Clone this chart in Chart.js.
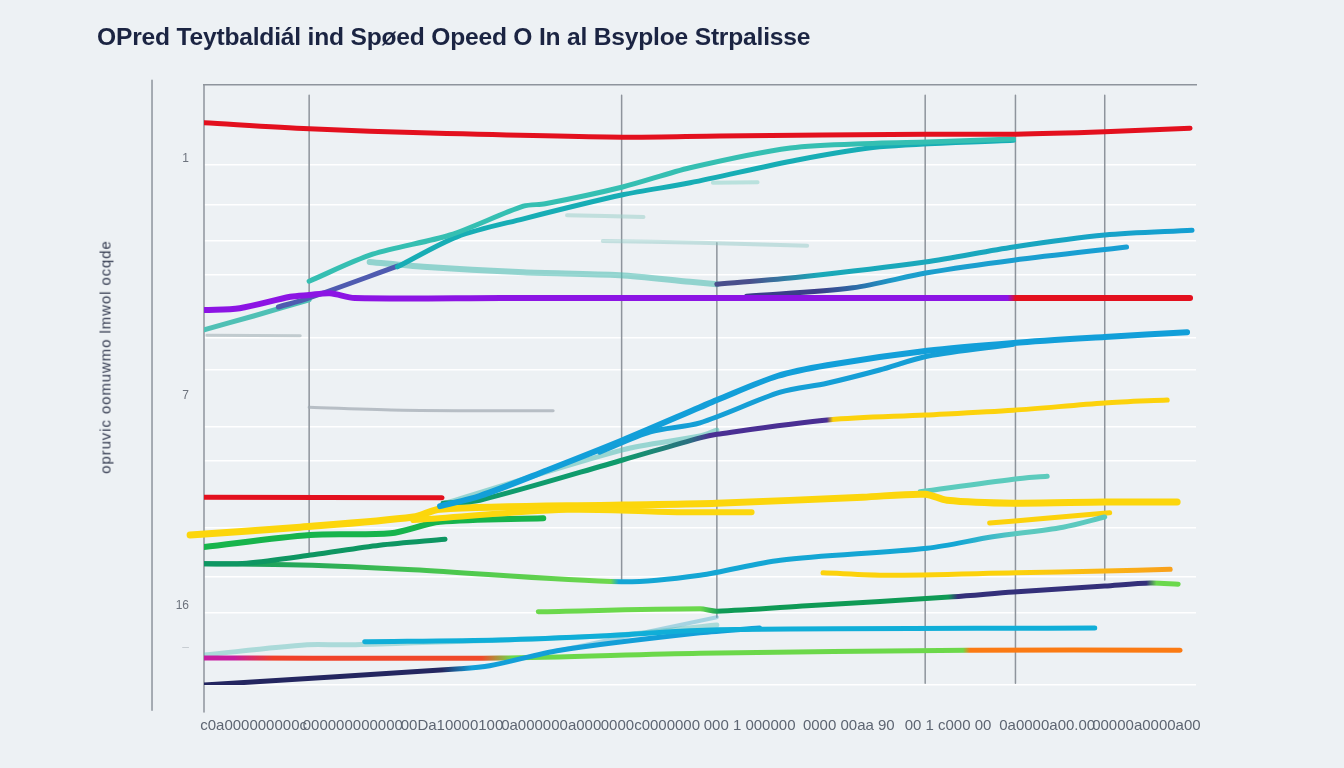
<!DOCTYPE html>
<html><head><meta charset="utf-8">
<script src="https://cdn.jsdelivr.net/npm/chart.js@4/dist/chart.umd.min.js"></script>
<style>
html,body{margin:0;padding:0;background:#edf1f4;}
#wrap{position:relative;width:1344px;height:768px;overflow:hidden;background:#edf1f4;}
#title{position:absolute;left:97px;top:23px;font:bold 24.6px "Liberation Sans",Arial,sans-serif;color:#1b2442;white-space:nowrap;letter-spacing:-0.2px;}
#ytitle{position:absolute;left:105px;top:357px;transform:translate(-50%,-50%) rotate(-90deg);font:15px "Liberation Sans",Arial,sans-serif;color:#343b50;white-space:nowrap;letter-spacing:0.9px;}
</style></head>
<body><div id="wrap"><canvas id="c" width="1344" height="768"></canvas>
<div id="title">OPred Teytbaldiál ind Spøed Opeed O In al Bsyploe Strpalisse</div>
<div id="ytitle">opruvic oomuwmo lmwol ocqde</div></div>
<script>
// ---- tick labels / axis values ----
const xTickValues = [5,15,25,35,45,55,65,75,85,95];
const xTickLabels = ['c0a000000000c','000000000000','00Da10000100','0a000000a000','0000c0000000','000 1 000000','0000 00aa 90','00 1 c000 00','0a0000a00.00','00000a0000a00'];
const yTickValues = [12.2, 51.8, 86.7, 93.8];
const yTickLabels = ['1','7','16','–'];
const yGridValues = [13.3, 20.0, 26.0, 31.7, 42.2, 47.5, 57.0, 62.7, 73.8, 82.0, 88.0, 100];
// vertical reference lines
const vX = [10.6, 42.1, 51.7, 72.7, 81.8, 90.8];
const vTop = [1.7, 1.7, 26.3, 1.7, 1.7, 1.7];
const vBottom = [78.3, 82.8, 88.7, 99.7, 99.7, 82.5];
// axis frame lines
const leftAxis = [[0,0],[0,104.5]];
const outerAxis = [[-5.24,-0.8],[-5.24,104.2]];

// ---- series (x, y) ----
const redTop = [[0,6.3],[10.6,7.3],[22.8,8.0],[42.2,8.7],[52.0,8.5],[72.7,8.2],[81.8,8.2],[90.8,7.8],[99.4,7.2]];
const purpleRed = [[0,37.5],[3.6,37.2],[8.7,35.3],[10.6,35.0],[12.7,34.7],[15.2,35.5],[30,35.5],[50,35.5],[81.6,35.5],[99.4,35.5]];
const tealA = [[10.6,32.7],[17.0,28.2],[24.8,25.0],[32.2,20.2],[34.4,19.8],[42.2,17.0],[49.0,13.8],[59.1,10.5],[67.8,9.7],[72.9,9.5],[81.6,9.0]];
const tealB = [[19.5,30.3],[25.5,25.3],[32.2,22.3],[42.2,18.3],[49.0,16.3],[59.8,12.5],[68.1,10.3],[81.6,9.2]];
const tealStart = [[0,40.8],[5.0,38.5],[10.6,35.8]];
const slateRise = [[7.5,37.0],[10.6,35.5],[19.5,30.2]];
const lineD = [[51.7,33.2],[60.1,32.0],[72.7,29.5],[81.6,27.0],[90.8,25.0],[99.6,24.2]];
const lineE = [[54.7,35.2],[65.4,33.8],[72.9,31.3],[81.6,29.2],[93.0,27.0]];
const blueF = [[23.8,70.2],[27.8,68.5],[34.6,64.2],[42.2,59.2],[50.0,53.7],[51.7,52.5],[57.8,48.5],[62.8,46.7],[72.9,44.3],[81.6,43.0],[90.8,42.0],[99.1,41.2]];
const blueF2 = [[39.9,61.2],[45.0,57.8],[50.0,56.3],[58.1,51.2],[62.8,49.7],[68.1,47.5],[72.9,45.2],[81.6,43.2]];
const lineG = [[24.1,69.7],[27.8,69.2],[42.2,62.5],[50.0,58.8],[51.7,58.2],[63.1,55.8],[72.7,55.0],[81.6,54.2],[90.8,53.0],[97.1,52.5]];
const ghostG = [[24.3,69.7],[42.2,60.8],[50.0,58.5],[51.7,57.5]];
const redMid = [[0,68.7],[24.0,68.8]];
const yellowH = [[-1.4,75.0],[9.7,73.7],[21.1,72.0],[23.8,70.7],[42.2,70.0],[51.7,69.7],[66.4,68.7],[72.7,68.2],[74.9,69.2],[81.6,69.7],[90.8,69.5],[98.1,69.5]];
const yellowH2 = [[21.1,72.5],[36.6,70.8],[48.0,71.2],[55.2,71.2]];
const tealI = [[72.2,67.8],[81.6,65.7],[85.0,65.2]];
const yellowI2 = [[79.2,73.0],[84.3,72.3],[91.3,71.3]];
const greenJ = [[0,77.0],[10.7,75.0],[18.8,74.7],[23.8,72.8],[34.2,72.2]];
const greenK = [[0,79.8],[4.3,79.7],[11.0,78.3],[17.7,76.7],[24.3,75.7]];
const lineL = [[0,79.8],[9.7,80.0],[21.1,80.8],[42.1,82.8],[50.0,81.7],[58.1,79.2],[72.9,77.2],[79.5,75.3],[86.6,73.7],[90.8,72.0]];
const lineM = [[62.4,81.3],[68.9,81.7],[81.8,81.3],[90.8,81.0],[97.4,80.7]];
const lineN = [[33.7,87.8],[50.0,87.3],[51.7,87.7],[60.8,86.8],[75.5,85.3],[81.6,84.5],[90.8,83.5],[95.4,83.0],[98.2,83.2]];
const cyanO = [[16.2,92.8],[29.8,92.5],[40.6,91.8],[51.7,90.8],[89.8,90.5]];
const lineQ = [[0,100],[25.8,97.3],[28.8,96.8],[35.9,94.2],[50.0,91.3],[56.0,90.5]];
const lineR = [[0,95.5],[4.3,95.5],[29.8,95.5],[50.0,94.7],[76.9,94.2],[98.4,94.2]];
const ghost1 = [[16.7,29.5],[22.1,30.3],[32.2,31.2],[41.9,31.7],[49.0,32.8],[51.7,33.2]];
const ghost2 = [[36.6,21.7],[44.3,22.0]];
const ghost3 = [[40.2,26.0],[50.0,26.3],[60.8,26.8]];
const ghost4 = [[51.3,16.3],[55.8,16.2]];
const ghost5 = [[0.3,41.7],[9.7,41.8]];
const ghost6 = [[10.6,53.7],[20,54.2],[35.2,54.3]];
const ghost7 = [[0,95.0],[10.4,93.3],[14.4,93.3],[40.6,91.8],[51.7,90.0]];
const ghost8 = [[35.9,94.2],[51.7,88.7]];

const FONT = '"Liberation Sans", Arial, sans-serif';

function seg(pts, color, width, extra){
  return Object.assign({
    data: pts.map(p => ({x:p[0], y:p[1]})),
    borderColor: color, borderWidth: width, xAxisID:'x', yAxisID:'y',
    pointRadius:0, fill:false, tension:0.3,
    borderCapStyle:'round', borderJoinStyle:'round'
  }, extra || {});
}
function grad(stops){
  return (ctx) => {
    const ch = ctx.chart; const xs = ch.scales && ch.scales.x;
    if (!ch.chartArea || !xs) return stops[0][1];
    const g = ch.ctx.createLinearGradient(xs.getPixelForValue(0), 0, xs.getPixelForValue(100), 0);
    stops.forEach(s => g.addColorStop(Math.max(0, Math.min(1, s[0]/100)), s[1]));
    return g;
  };
}

const datasets = [
  seg(purpleRed, grad([[0,'#8c14e4'],[81.0,'#8c14e4'],[81.8,'#e3101e'],[100,'#e3101e']]), 6),
  seg(redTop, '#e3101e', 5),
  seg(blueF, '#129fd9', 6),
  seg(blueF2, '#159fd6', 5),
  seg(tealA, '#35bfb2', 5),
  seg(tealB, '#17adb5', 5),
  seg(lineD, grad([[0,'#4a4f8c'],[55,'#4a4f8c'],[62,'#1aa9b8'],[85,'#19a6c0'],[100,'#139fd4']]), 5),
  seg(lineE, grad([[0,'#3a3f88'],[62,'#3a3f88'],[70,'#1c9fcc'],[100,'#179fd6']]), 5),
  seg(yellowH2, '#fcd70e', 6),
  seg(lineG, grad([[0,'#0f9b6c'],[42,'#0f9b6c'],[49,'#2a6f80'],[51,'#4a2f93'],[62.8,'#4a2f93'],[63.4,'#fcd20c'],[100,'#fcd20c']]), 5),
  seg(yellowH, '#fcd60c', 7, {clip:false}),
  seg(redMid, '#e3101e', 5),
  seg(greenJ, '#17b44c', 6),
  seg(greenK, '#0e9662', 5),
  seg(lineL, grad([[0,'#0e9560'],[25,'#4cc84e'],[41,'#6fd84e'],[41.8,'#14a6d4'],[76,'#14a6d4'],[82,'#5cc9bf'],[100,'#5cc9bf']]), 5),
  seg(lineM, grad([[0,'#fcd20c'],[82,'#fcd20c'],[97,'#f9a11b'],[100,'#f9a11b']]), 5),
  seg(lineN, grad([[0,'#6bd84c'],[50,'#6bd84c'],[52,'#0e9a55'],[75,'#0e9a55'],[76,'#34307a'],[95,'#34307a'],[96,'#6bd84c'],[100,'#6bd84c']]), 5),
  seg(cyanO, '#10aed8', 5),
  seg(lineQ, grad([[0,'#242660'],[24,'#242660'],[27,'#139fd8'],[100,'#139fd8']]), 5),
  seg(lineR, grad([[0,'#c71ea0'],[3,'#c71ea0'],[7,'#f0402a'],[28,'#f04a2a'],[31,'#6cd84a'],[76.5,'#6cd84a'],[77.2,'#fb7a13'],[100,'#fb7a13']]), 5),
  seg(tealI, '#5ccbbd', 5),
  seg(yellowI2, '#fcd20c', 5),
  seg(slateRise, '#4f5bb0', 5),
  seg(tealStart, '#4fc0b5', 5),
  seg(ghostG, 'rgba(80,190,180,0.55)', 5),
  seg(ghost1, 'rgba(70,185,175,0.55)', 6),
  seg(ghost2, 'rgba(150,205,198,0.5)', 4),
  seg(ghost3, 'rgba(140,200,195,0.45)', 4),
  seg(ghost4, 'rgba(150,215,205,0.6)', 4),
  seg(ghost5, 'rgba(150,165,170,0.5)', 3),
  seg(ghost6, 'rgba(160,168,176,0.7)', 3),
  seg(ghost7, 'rgba(90,190,185,0.45)', 5),
  seg(ghost8, 'rgba(60,170,200,0.4)', 4),
];
vX.forEach((x,i) => datasets.push(seg([[x,vTop[i]],[x,vBottom[i]]], '#8e949c', 1.5, {tension:0, borderCapStyle:'butt'})));
datasets.push(seg(leftAxis, '#8e949c', 1.5, {tension:0, clip:false, borderCapStyle:'butt'}));
datasets.push(seg(outerAxis, '#8e949c', 1.5, {tension:0, clip:false, borderCapStyle:'butt'}));

new Chart(document.getElementById('c'), {
  type:'line',
  data:{datasets},
  options:{
    responsive:false, animation:false, devicePixelRatio:1,
    layout:{padding:{left:0, right:148, top:85, bottom:0}},
    plugins:{legend:{display:false}, tooltip:{enabled:false}, title:{display:false}},
    scales:{
      x:{type:'linear', min:0, max:100, position:'bottom',
        grid:{display:false, drawTicks:false}, border:{display:false},
        afterBuildTicks:(a)=>{a.ticks = xTickValues.map(v=>({value:v}));},
        afterFit:(s)=>{s.height = 83;},
        ticks:{autoSkip:false, maxRotation:0, minRotation:0, padding:32, color:'#5d6572',
          font:{size:15, family:FONT}, callback:(v,i)=>xTickLabels[i]}},
      xTop:{type:'linear', min:0, max:100, position:'top',
        grid:{display:false, drawTicks:false}, border:{display:true, color:'#8e949c', width:1.5},
        ticks:{display:false}, afterFit:(s)=>{s.height = 0;}},
      y:{type:'linear', reverse:true, min:0, max:100, position:'left',
        grid:{display:false, drawTicks:false}, border:{display:false},
        afterBuildTicks:(a)=>{a.ticks = yTickValues.map(v=>({value:v}));},
        afterFit:(s)=>{s.width = 204;},
        ticks:{autoSkip:false, padding:15,
          color:(c)=> c.index === 3 ? '#c3c8ce' : '#6d737d',
          font:{size:12, family:FONT}, callback:(v,i)=>yTickLabels[i]}},
      yGrid:{type:'linear', reverse:true, min:0, max:100, position:'right',
        grid:{display:true, color:'#ffffff', lineWidth:1.5, drawTicks:false},
        border:{display:false}, ticks:{display:false},
        afterBuildTicks:(a)=>{a.ticks = yGridValues.map(v=>({value:v}));},
        afterFit:(s)=>{s.width = 0;}}
    }
  }
});
</script></body></html>
